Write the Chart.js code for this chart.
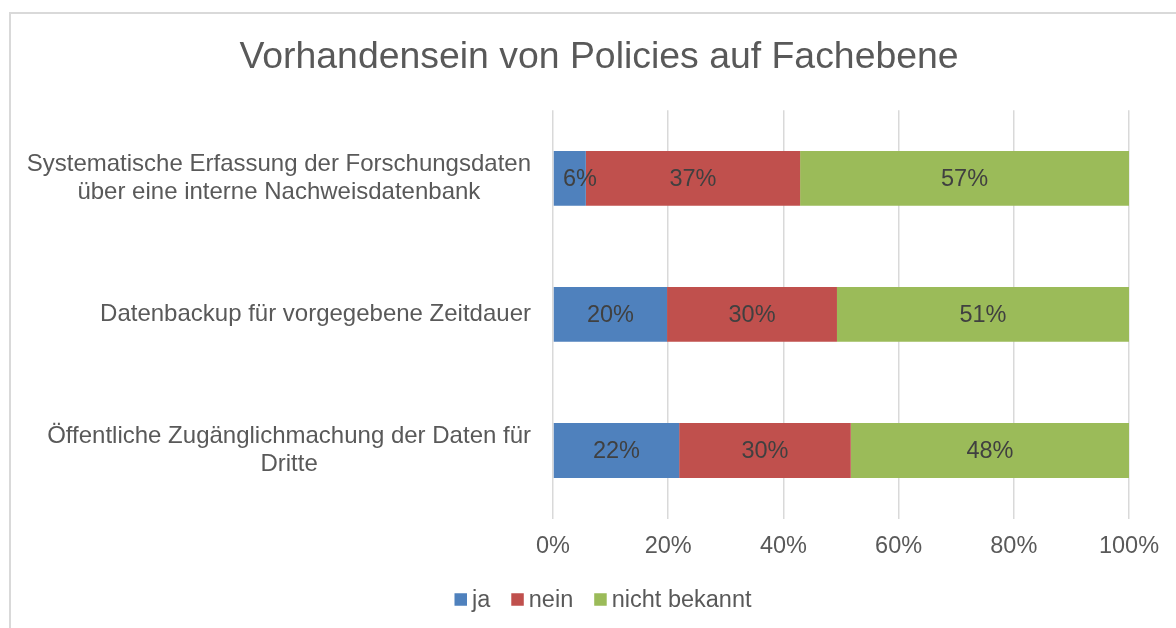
<!DOCTYPE html>
<html><head><meta charset="utf-8">
<script src="https://cdn.jsdelivr.net/npm/chart.js@4/dist/chart.umd.min.js"></script>
<style>html,body{margin:0;padding:0;background:#fff;} #wrap{width:1176px;height:628px;position:relative;}</style>
</head><body><div id="wrap"><canvas id="c" width="1176" height="628"></canvas></div>
<script>
const categories = [
  ["Systematische Erfassung der Forschungsdaten", "über eine interne Nachweisdatenbank"],
  ["Datenbackup für vorgegebene Zeitdauer"],
  ["Öffentliche Zugänglichmachung der Daten für", "Dritte"]
];
const seriesNames = ["ja", "nein", "nicht bekannt"];
const jaValues = [5.7, 19.8, 21.9];
const neinValues = [37.2, 29.5, 29.8];
const nichtBekanntValues = [57.1, 50.7, 48.3];
const xTickValues = [0, 20, 40, 60, 80, 100];
const titleText = "Vorhandensein von Policies auf Fachebene";

const FONT = "'Liberation Sans', Arial, sans-serif";
const colors = ['#4F81BD', '#C0504D', '#9BBB59'];
const TEXT = '#595959';

const framePlugin = {
  id: 'frame',
  beforeDraw(chart) {
    const ctx = chart.ctx;
    ctx.save();
    ctx.fillStyle = '#fff';
    ctx.fillRect(0, 0, chart.width, chart.height);
    ctx.strokeStyle = '#d9d9d9';
    ctx.lineWidth = 2;
    ctx.strokeRect(10, 13, 1300, 800);
    ctx.restore();
  }
};

const dataLabelPlugin = {
  id: 'dataLabels',
  afterDatasetsDraw(chart) {
    const ctx = chart.ctx;
    ctx.save();
    ctx.font = `23.5px ${FONT}`;
    ctx.fillStyle = '#404040';
    ctx.textAlign = 'center';
    ctx.textBaseline = 'middle';
    chart.data.datasets.forEach((ds, di) => {
      const meta = chart.getDatasetMeta(di);
      meta.data.forEach((bar, i) => {
        const txt = Math.round(ds.data[i]) + '%';
        const w = ctx.measureText(txt).width;
        let cx = (bar.x + bar.base) / 2;
        const minLeft = chart.chartArea.left + 10;
        if (cx - w / 2 < minLeft) cx = minLeft + w / 2;
        ctx.fillText(txt, cx, bar.y + 1);
      });
    });
    ctx.restore();
  }
};

const catLabelPlugin = {
  id: 'catLabels',
  afterDraw(chart) {
    const ctx = chart.ctx;
    const yScale = chart.scales.y;
    ctx.save();
    ctx.font = `24px ${FONT}`;
    ctx.fillStyle = TEXT;
    ctx.textAlign = 'center';
    ctx.textBaseline = 'middle';
    const right = chart.chartArea.left - 22;
    categories.forEach((lines, i) => {
      const yc = yScale.getPixelForValue(i);
      const maxW = Math.max(...lines.map(l => ctx.measureText(l).width));
      const cx = right - maxW / 2;
      lines.forEach((l, k) => ctx.fillText(l, cx, yc + (k - (lines.length - 1) / 2) * 28));
    });
    ctx.restore();
  }
};

const legendPlugin = {
  id: 'customLegend',
  afterDraw(chart) {
    const ctx = chart.ctx;
    ctx.save();
    ctx.font = `23.5px ${FONT}`;
    ctx.textBaseline = 'middle';
    ctx.textAlign = 'left';
    const box = 12.5, gap = 5, itemGap = 21;
    const items = chart.data.datasets.map(ds => ({ label: ds.label, color: ds.backgroundColor, w: ctx.measureText(ds.label).width }));
    let total = 0;
    items.forEach((it, i) => { total += box + gap + it.w + (i < items.length - 1 ? itemGap : 0); });
    let x = 603 - total / 2;
    const yc = 599.5;
    items.forEach(it => {
      ctx.fillStyle = it.color;
      ctx.fillRect(x, yc - box / 2, box, box);
      x += box + gap;
      ctx.fillStyle = TEXT;
      ctx.fillText(it.label, x, yc + 1);
      x += it.w + itemGap;
    });
    ctx.restore();
  }
};

const seriesValues = [jaValues, neinValues, nichtBekanntValues];

new Chart(document.getElementById('c'), {
  type: 'bar',
  data: {
    labels: categories.map(c => c.join(' ')),
    datasets: seriesNames.map((name, i) => ({
      label: name,
      data: seriesValues[i],
      backgroundColor: colors[i],
      borderWidth: 0,
      categoryPercentage: 1,
      barPercentage: 0.403
    }))
  },
  options: {
    indexAxis: 'y',
    responsive: false,
    animation: false,
    devicePixelRatio: 1,
    layout: { padding: { left: 22, right: 0, top: 0, bottom: 60 } },
    plugins: {
      legend: { display: false },
      tooltip: { enabled: false },
      title: {
        display: true,
        text: titleText,
        color: TEXT,
        font: { family: FONT, size: 37.4, weight: 'normal' },
        padding: { top: 35, bottom: 30.4 }
      }
    },
    scales: {
      x: {
        type: 'linear',
        stacked: true,
        min: 0,
        max: 100,
        position: 'bottom',
        afterBuildTicks(s) { s.ticks = xTickValues.map(v => ({ value: v })); },
        afterFit(s) { s.height = 49.5; },
        grid: { color: '#d9d9d9', lineWidth: 1.5, drawTicks: false },
        border: { display: false },
        ticks: {
          padding: 14,
          color: TEXT,
          font: { family: FONT, size: 23.5 },
          callback: v => v + '%'
        }
      },
      y: {
        stacked: true,
        grid: { display: false },
        border: { display: false },
        ticks: { display: false },
        afterFit(s) { s.width = 531; }
      },
      yR: {
        type: 'linear',
        position: 'right',
        display: true,
        grid: { display: false },
        border: { display: false },
        ticks: { display: false },
        afterFit(s) { s.width = 47; }
      }
    }
  },
  plugins: [framePlugin, dataLabelPlugin, catLabelPlugin, legendPlugin]
});
</script>
</body></html>
